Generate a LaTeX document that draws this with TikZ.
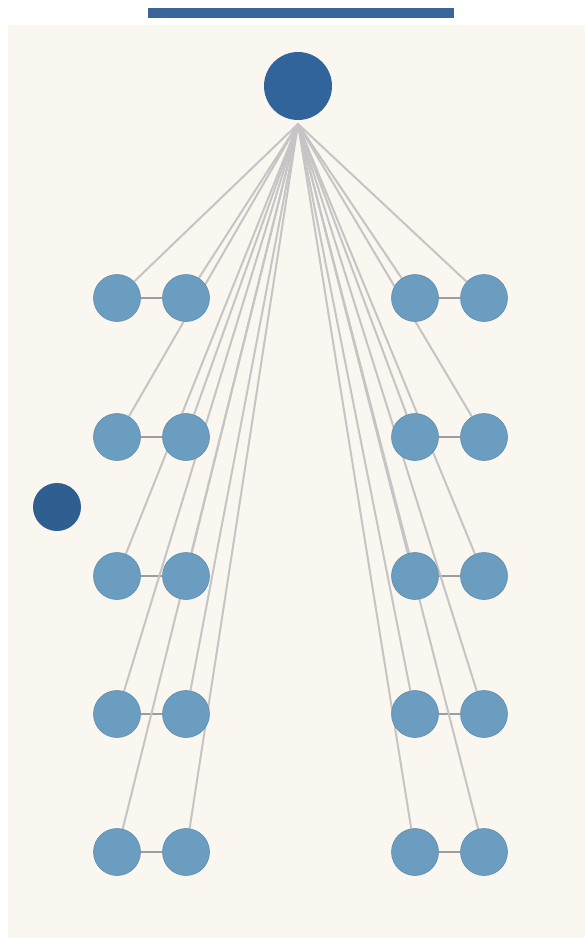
\documentclass[tikz,border=0pt]{standalone}
\pgfdeclarelayer{back}
\pgfdeclarelayer{bg}
\pgfsetlayers{back,bg,main}
\begin{document}
\begin{tikzpicture}[x=1pt,y=-1pt,
  leaf/.style={circle,fill=leafblue,draw=leafblue!90!black,line width=0.6pt,minimum size=47pt,inner sep=0pt},
  rootnode/.style={circle,fill=rootblue,minimum size=68pt,inner sep=0pt},
  lone/.style={circle,fill=loneblue,minimum size=48pt,inner sep=0pt},
  edge/.style={draw=edgegray,line width=2pt},
  link/.style={draw=edgegray!80!black,line width=1.4pt}]
\definecolor{leafblue}{HTML}{6B9DC1}
\definecolor{rootblue}{HTML}{31649B}
\definecolor{loneblue}{HTML}{2F5E90}
\definecolor{edgegray}{HTML}{C6C4C4}
\definecolor{cream}{HTML}{F9F7F0}
\definecolor{barblue}{HTML}{3A659A}
\begin{pgfonlayer}{back}
\fill[white] (0,0) rectangle (585,940);
\fill[cream] (8,25) rectangle (585,938);
\fill[barblue] (148,8) rectangle (454,18);
\end{pgfonlayer}
\useasboundingbox (0,0) rectangle (585,940);
\node[rootnode] (root) at (298,86) {};
\coordinate (hub) at (298,124);
\node[lone] (lone) at (57,507) {};
\foreach \r/\y in {1/298,2/437,3/576,4/714,5/852}{
  \node[leaf] (a\r) at (117,\y) {};
  \node[leaf] (b\r) at (186,\y) {};
  \node[leaf] (c\r) at (415,\y) {};
  \node[leaf] (d\r) at (484,\y) {};
}
\begin{pgfonlayer}{bg}
\foreach \r in {1,...,5}{
  \foreach \c in {a,b,c,d}{
    \draw[edge] (hub) -- (\c\r);
  }
  \draw[link] (a\r) -- (b\r);
  \draw[link] (c\r) -- (d\r);
}
\end{pgfonlayer}
\end{tikzpicture}
\end{document}
